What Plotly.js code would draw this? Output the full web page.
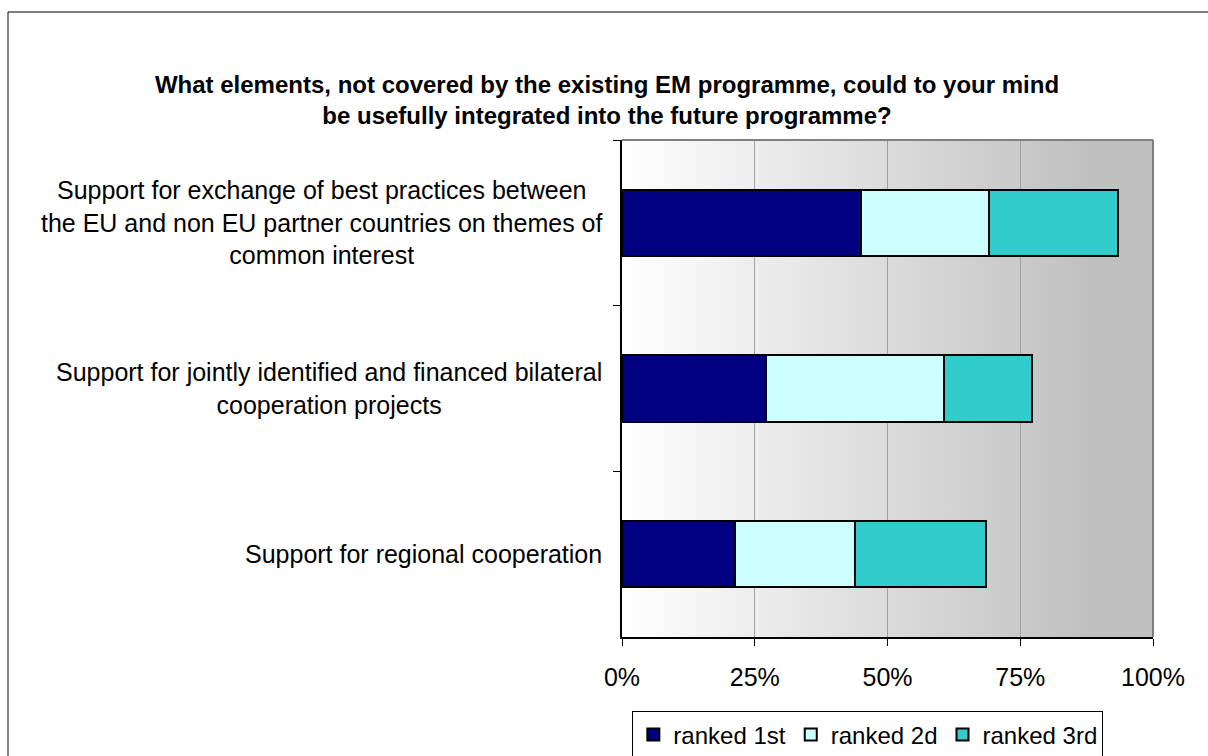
<!DOCTYPE html>
<html>
<head>
<meta charset="utf-8">
<script src="https://cdn.plot.ly/plotly-3.0.1.min.js"></script>
<style>
  html, body { margin: 0; padding: 0; background: #ffffff; }
  #chart { width: 1208px; height: 756px; }
</style>
</head>
<body>
<div id="chart"></div>
<script>
// ---- Data ----
const categories = [
  "Support for exchange of best practices between<br>the EU and non EU partner countries on themes of<br>common interest",
  "Support for jointly identified and financed bilateral<br>cooperation projects",
  "Support for regional cooperation"
];
const seriesNames = ["ranked 1st", "ranked 2d", "ranked 3rd"];
const ranked1st = [45.0, 27.1, 21.3];
const ranked2d  = [24.1, 33.5, 22.6];
const ranked3rd = [24.3, 16.6, 24.6];
const seriesColors = ["#000080", "#ccffff", "#33cccc"];
const xTickVals = [0, 25, 50, 75, 100];
const titleText = "What elements, not covered by the existing EM programme, could to your mind<br>be usefully integrated into the future programme?";

const FONT = "Liberation Sans, Arial, sans-serif";
const seriesValues = [ranked1st, ranked2d, ranked3rd];

const traces = seriesValues.map((vals, i) => ({
  type: "bar",
  orientation: "h",
  name: seriesNames[i],
  x: vals,
  y: categories,
  marker: { color: seriesColors[i], line: { color: "#000000", width: 2 } },
  hoverinfo: "x+name"
}));

const gradSvg = '<svg xmlns="http://www.w3.org/2000/svg" width="100" height="100" preserveAspectRatio="none">' +
  '<defs><linearGradient id="g" x1="0" y1="0" x2="1" y2="0">' +
  '<stop offset="0" stop-color="#ffffff"/><stop offset="0.88" stop-color="#c0c0c0"/><stop offset="1" stop-color="#c0c0c0"/>' +
  '</linearGradient></defs><rect width="100" height="100" fill="url(#g)"/></svg>';
const gradUri = "data:image/svg+xml;base64," + btoa(gradSvg);

const annotations = categories.map(c => ({
  xref: "paper", yref: "y",
  x: -0.033, y: c,
  xanchor: "right", yanchor: "middle",
  align: "center",
  text: c,
  showarrow: false,
  font: { family: FONT, size: 25, color: "#000000" }
}));

const layout = {
  width: 1208,
  height: 756,
  margin: { l: 622, r: 55, t: 140, b: 119, pad: 0, autoexpand: false },
  paper_bgcolor: "#ffffff",
  plot_bgcolor: "rgba(0,0,0,0)",
  barmode: "stack",
  bargap: 0.6,
  showlegend: true,
  font: { family: FONT, size: 24, color: "#000000" },
  title: {
    text: titleText,
    font: { family: FONT, size: 24, color: "#000000", weight: "bold" },
    xref: "container", x: 0.5025, xanchor: "center",
    yref: "container", y: 0.877, yanchor: "middle"
  },
  xaxis: {
    range: [0, 100],
    tickvals: xTickVals,
    ticktext: xTickVals.map(v => v + "%"),
    ticks: "outside", ticklen: 7, tickcolor: "#000000", tickwidth: 1,
    ticklabelstandoff: 10,
    automargin: false,
    showgrid: true, gridcolor: "#a0a0a0", gridwidth: 1,
    showline: true, linecolor: "#000000", linewidth: 2,
    zeroline: false,
    tickfont: { family: FONT, size: 25, color: "#000000" },
    fixedrange: true
  },
  yaxis: {
    type: "category",
    autorange: "reversed",
    tickson: "boundaries",
    ticks: "outside", ticklen: 7, tickcolor: "#000000", tickwidth: 1,
    showticklabels: false,
    automargin: false,
    showgrid: false,
    showline: true, linecolor: "#000000", linewidth: 2,
    zeroline: false,
    fixedrange: true
  },
  legend: {
    orientation: "h",
    xref: "paper", x: 0.463, xanchor: "center",
    yref: "container", y: 0.028, yanchor: "middle",
    bgcolor: "#ffffff",
    bordercolor: "#000000", borderwidth: 1,
    font: { family: FONT, size: 24, color: "#000000" },
    itemwidth: 30,
    tracegroupgap: 0,
    traceorder: "normal"
  },
  images: [{
    source: gradUri,
    xref: "paper", yref: "paper",
    x: 0, y: 1, sizex: 1, sizey: 1,
    xanchor: "left", yanchor: "top",
    sizing: "stretch",
    layer: "below"
  }],
  shapes: [
    { type: "line", xref: "paper", yref: "paper", x0: 0, x1: 1, y0: 1, y1: 1, line: { color: "#808080", width: 2 } },
    { type: "line", xref: "paper", yref: "paper", x0: 1, x1: 1, y0: 0, y1: 1, line: { color: "#808080", width: 2 } },
    { type: "rect", xref: "paper", yref: "paper", x0: -1.1563, x1: 1.1168, y0: -0.2676, y1: 1.2575, line: { color: "#000000", width: 1 }, fillcolor: "rgba(0,0,0,0)", layer: "above" }
  ],
  annotations: annotations
};

Plotly.newPlot("chart", traces, layout, { displayModeBar: false, staticPlot: true });
</script>
</body>
</html>
